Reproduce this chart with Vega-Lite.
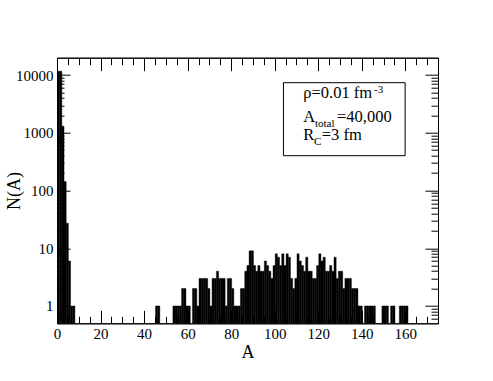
{
  "$schema": "https://vega.github.io/schema/vega-lite/v6.json",
  "width": 381,
  "height": 265.6,
  "autosize": {"type": "none"},
  "padding": {"left": 57, "top": 57.7, "right": 55, "bottom": 57.7},
  "background": "white",
  "config": {
    "view": {"stroke": "black", "strokeWidth": 1},
    "font": "Liberation Serif, Times New Roman, Times, serif",
    "text": {"font": "Liberation Serif, Times New Roman, Times, serif"},
    "axis": {"grid": false, "domainColor": "black", "tickColor": "black", "labelColor": "black", "titleColor": "black", "labelFont": "Liberation Serif, Times New Roman, Times, serif", "titleFont": "Liberation Serif, Times New Roman, Times, serif", "labelFontSize": 15, "titleFontSize": 18, "titleFontWeight": "normal"}
  },
  "datasets": {
    "hist": [
      {"A": 0, "N": 11700}, {"A": 1, "N": 11700}, {"A": 2, "N": 1300}, {"A": 3, "N": 143}, {"A": 4, "N": 27}, {"A": 5, "N": 6}, {"A": 6, "N": 1}, {"A": 7, "N": 1},
      {"A": 45, "N": 1}, {"A": 46, "N": 1},
      {"A": 53, "N": 1}, {"A": 54, "N": 1}, {"A": 55, "N": 1}, {"A": 56, "N": 1},
      {"A": 57, "N": 2}, {"A": 58, "N": 2}, {"A": 59, "N": 1}, {"A": 60, "N": 1},
      {"A": 62, "N": 2}, {"A": 63, "N": 2}, {"A": 64, "N": 1},
      {"A": 65, "N": 3}, {"A": 66, "N": 3}, {"A": 67, "N": 3}, {"A": 68, "N": 3},
      {"A": 69, "N": 2}, {"A": 70, "N": 1}, {"A": 71, "N": 3}, {"A": 72, "N": 3},
      {"A": 73, "N": 4}, {"A": 74, "N": 3}, {"A": 75, "N": 3}, {"A": 76, "N": 3},
      {"A": 77, "N": 1}, {"A": 78, "N": 3}, {"A": 79, "N": 3}, {"A": 80, "N": 2},
      {"A": 81, "N": 1}, {"A": 82, "N": 1}, {"A": 83, "N": 1}, {"A": 84, "N": 2}, {"A": 85, "N": 2},
      {"A": 86, "N": 4}, {"A": 87, "N": 5}, {"A": 88, "N": 9}, {"A": 89, "N": 9}, {"A": 90, "N": 5},
      {"A": 91, "N": 4}, {"A": 92, "N": 5}, {"A": 93, "N": 4}, {"A": 94, "N": 4}, {"A": 95, "N": 6},
      {"A": 96, "N": 5}, {"A": 97, "N": 4}, {"A": 98, "N": 3}, {"A": 99, "N": 5}, {"A": 100, "N": 8},
      {"A": 101, "N": 7}, {"A": 102, "N": 5}, {"A": 103, "N": 8}, {"A": 104, "N": 5}, {"A": 105, "N": 8},
      {"A": 106, "N": 7}, {"A": 107, "N": 3}, {"A": 108, "N": 2}, {"A": 109, "N": 3}, {"A": 110, "N": 8},
      {"A": 111, "N": 6}, {"A": 112, "N": 5}, {"A": 113, "N": 4}, {"A": 114, "N": 7}, {"A": 115, "N": 4},
      {"A": 116, "N": 4}, {"A": 117, "N": 3}, {"A": 118, "N": 3}, {"A": 119, "N": 5}, {"A": 120, "N": 8},
      {"A": 121, "N": 6}, {"A": 122, "N": 7}, {"A": 123, "N": 4}, {"A": 124, "N": 4}, {"A": 125, "N": 5},
      {"A": 126, "N": 4}, {"A": 127, "N": 7}, {"A": 128, "N": 3}, {"A": 129, "N": 4}, {"A": 130, "N": 4},
      {"A": 131, "N": 2}, {"A": 132, "N": 3}, {"A": 133, "N": 3}, {"A": 134, "N": 3}, {"A": 135, "N": 2},
      {"A": 136, "N": 2}, {"A": 137, "N": 2}, {"A": 138, "N": 1}, {"A": 139, "N": 1},
      {"A": 141, "N": 1}, {"A": 142, "N": 1}, {"A": 143, "N": 1}, {"A": 144, "N": 1}, {"A": 145, "N": 1},
      {"A": 149, "N": 1}, {"A": 150, "N": 1}, {"A": 151, "N": 1},
      {"A": 153, "N": 1}, {"A": 154, "N": 1},
      {"A": 157, "N": 1}, {"A": 158, "N": 1}, {"A": 159, "N": 1}, {"A": 160, "N": 1}
    ]
  },
  "resolve": {"axis": {"x": "independent", "y": "independent"}},
  "layer": [
    {
      "data": {"name": "hist"},
      "transform": [{"bin": {"step": 1, "extent": [0, 175]}, "field": "A", "as": ["A0", "A1"]}],
      "mark": {"type": "bar", "color": "black", "stroke": "black", "strokeWidth": 0.4, "binSpacing": 0, "clip": true},
      "encoding": {
        "x": {"field": "A0", "type": "quantitative", "bin": {"binned": true},
          "scale": {"domain": [0, 175], "nice": false, "zero": false},
          "axis": {"orient": "bottom", "title": "A", "titlePadding": 2,
            "values": [0,5,10,15,20,25,30,35,40,45,50,55,60,65,70,75,80,85,90,95,100,105,110,115,120,125,130,135,140,145,150,155,160,165,170],
            "labelExpr": "datum.value % 20 == 0 ? datum.label : ''",
            "tickSize": {"condition": {"test": "datum.value % 20 == 0", "value": -13}, "value": -7},
            "labelPadding": 16, "labelFlush": false}},
        "x2": {"field": "A1"},
        "y": {"field": "N", "type": "quantitative",
          "scale": {"type": "log", "domain": [0.5, 20000], "nice": false},
          "axis": {"orient": "left", "title": "N(A)", "format": "d", "titlePadding": -8,
            "values": [0.6,0.7,0.8,0.9,1,2,3,4,5,6,7,8,9,10,20,30,40,50,60,70,80,90,100,200,300,400,500,600,700,800,900,1000,2000,3000,4000,5000,6000,7000,8000,9000,10000],
            "labelExpr": "(datum.value == 1 || datum.value == 10 || datum.value == 100 || datum.value == 1000 || datum.value == 10000) ? datum.label : ''",
            "tickSize": {"condition": {"test": "datum.value == 1 || datum.value == 10 || datum.value == 100 || datum.value == 1000 || datum.value == 10000", "value": -13}, "value": -7},
            "labelPadding": 17, "labelFlush": false}},
        "y2": {"datum": 0.5}
      }
    },
    {
      "data": {"name": "hist"},
      "transform": [{"bin": {"step": 1, "extent": [0, 175]}, "field": "A", "as": ["A0", "A1"]}],
      "mark": {"type": "bar", "opacity": 0},
      "encoding": {
        "x": {"field": "A0", "type": "quantitative", "bin": {"binned": true},
          "axis": {"orient": "top", "title": null, "labels": false,
            "values": [0,5,10,15,20,25,30,35,40,45,50,55,60,65,70,75,80,85,90,95,100,105,110,115,120,125,130,135,140,145,150,155,160,165,170],
            "tickSize": {"condition": {"test": "datum.value % 20 == 0", "value": -13}, "value": -7}}},
        "x2": {"field": "A1"},
        "y": {"field": "N", "type": "quantitative",
          "axis": {"orient": "right", "title": null, "labels": false,
            "values": [0.6,0.7,0.8,0.9,1,2,3,4,5,6,7,8,9,10,20,30,40,50,60,70,80,90,100,200,300,400,500,600,700,800,900,1000,2000,3000,4000,5000,6000,7000,8000,9000,10000],
            "tickSize": {"condition": {"test": "datum.value == 1 || datum.value == 10 || datum.value == 100 || datum.value == 1000 || datum.value == 10000", "value": -13}, "value": -7}}},
        "y2": {"datum": 0.5}
      }
    },
    {
      "data": {"values": [{}]},
      "mark": {"type": "rect", "fill": "white", "stroke": "black", "strokeWidth": 1},
      "encoding": {
        "x": {"datum": 104, "type": "quantitative", "axis": null},
        "x2": {"datum": 159.9},
        "y": {"datum": 7380, "type": "quantitative", "axis": null},
        "y2": {"datum": 401}
      }
    },
    {
      "data": {"values": [{}]},
      "mark": {"type": "text", "text": "ρ=0.01 fm", "align": "left", "baseline": "alphabetic", "fontSize": 16.5},
      "encoding": {"x": {"datum": 113.1, "type": "quantitative", "axis": null}, "y": {"datum": 3960, "type": "quantitative", "axis": null}}
    },
    {
      "data": {"values": [{}]},
      "mark": {"type": "text", "text": "-3", "align": "left", "baseline": "alphabetic", "fontSize": 11},
      "encoding": {"x": {"datum": 145.6, "type": "quantitative", "axis": null}, "y": {"datum": 4830, "type": "quantitative", "axis": null}}
    },
    {
      "data": {"values": [{}]},
      "mark": {"type": "text", "text": "A", "align": "left", "baseline": "alphabetic", "fontSize": 16.5},
      "encoding": {"x": {"datum": 113.1, "type": "quantitative", "axis": null}, "y": {"datum": 1556, "type": "quantitative", "axis": null}}
    },
    {
      "data": {"values": [{}]},
      "mark": {"type": "text", "text": "total", "align": "left", "baseline": "alphabetic", "fontSize": 11},
      "encoding": {"x": {"datum": 118.5, "type": "quantitative", "axis": null}, "y": {"datum": 1274, "type": "quantitative", "axis": null}}
    },
    {
      "data": {"values": [{}]},
      "mark": {"type": "text", "text": "=40,000", "align": "left", "baseline": "alphabetic", "fontSize": 16.5},
      "encoding": {"x": {"datum": 128.6, "type": "quantitative", "axis": null}, "y": {"datum": 1556, "type": "quantitative", "axis": null}}
    },
    {
      "data": {"values": [{}]},
      "mark": {"type": "text", "text": "R", "align": "left", "baseline": "alphabetic", "fontSize": 16.5},
      "encoding": {"x": {"datum": 113.1, "type": "quantitative", "axis": null}, "y": {"datum": 750, "type": "quantitative", "axis": null}}
    },
    {
      "data": {"values": [{}]},
      "mark": {"type": "text", "text": "C", "align": "left", "baseline": "alphabetic", "fontSize": 11},
      "encoding": {"x": {"datum": 118.1, "type": "quantitative", "axis": null}, "y": {"datum": 614, "type": "quantitative", "axis": null}}
    },
    {
      "data": {"values": [{}]},
      "mark": {"type": "text", "text": "=3 fm", "align": "left", "baseline": "alphabetic", "fontSize": 16.5},
      "encoding": {"x": {"datum": 121.6, "type": "quantitative", "axis": null}, "y": {"datum": 750, "type": "quantitative", "axis": null}}
    }
  ]
}
